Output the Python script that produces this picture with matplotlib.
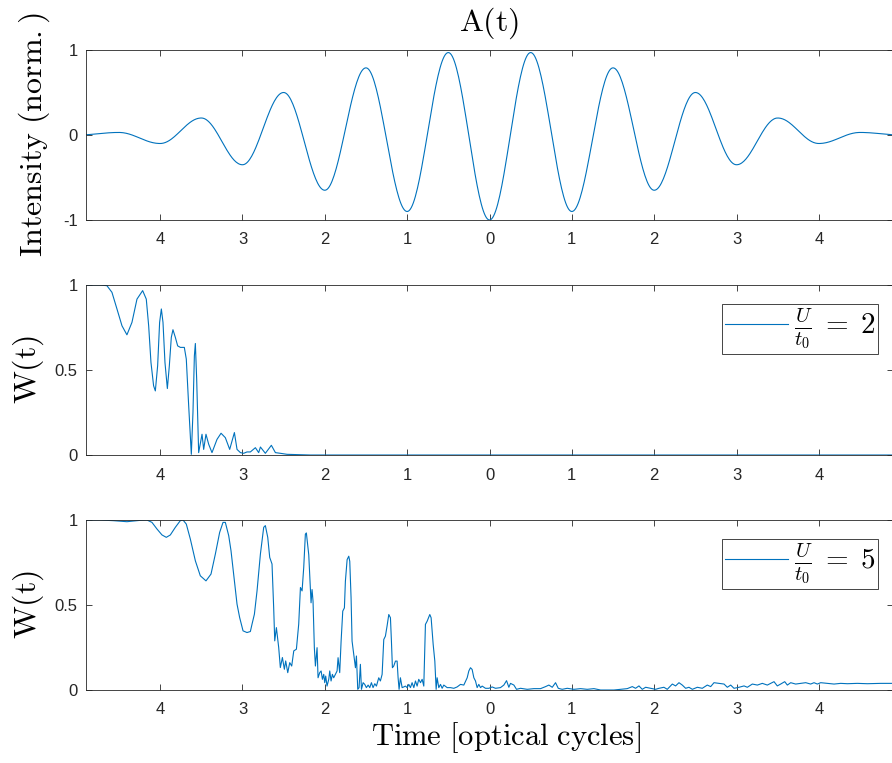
import numpy as np
import matplotlib.pyplot as plt

plt.rcParams['mathtext.fontset'] = 'cm'
plt.rcParams['font.family'] = ['Liberation Sans', 'DejaVu Sans']

blue = '#0072BD'
dark = '#262626'

# A(t): extrema of the normalised field, one every half optical cycle
a_t = [-5.0, -4.5, -4.0, -3.5, -3.0, -2.5, -2.0, -1.5, -1.0, -0.5, 0.0,
       0.5, 1.0, 1.5, 2.0, 2.5, 3.0, 3.5, 4.0, 4.5, 5.0]
a_val = [0.0, 0.03, -0.10, 0.20, -0.35, 0.50, -0.65, 0.79, -0.90, 0.97, -1.0,
         0.97, -0.90, 0.79, -0.65, 0.50, -0.35, 0.20, -0.10, 0.03, 0.0]

# W(t) for U/t0 = 2
w2_t = [-4.897, -4.727, -4.646, -4.585, -4.524, -4.463, -4.403, -4.342, -4.281,
        -4.212, -4.168, -4.139, -4.111, -4.079, -4.058, -4.030, -4.006, -3.985,
        -3.965, -3.941, -3.912, -3.888, -3.864, -3.844, -3.815, -3.787, -3.754,
        -3.706, -3.682, -3.653, -3.621, -3.601, -3.584, -3.572, -3.556, -3.532,
        -3.491, -3.471, -3.443, -3.410, -3.370, -3.309, -3.260, -3.208, -3.155,
        -3.098, -3.066, -3.025, -2.985, -2.945, -2.904, -2.843, -2.803, -2.782,
        -2.722, -2.649, -2.600, -2.540, -2.459, -2.175, 4.9]
w2_val = [1.0, 1.0, 0.996, 0.957, 0.859, 0.760, 0.707, 0.780, 0.917,
          0.967, 0.917, 0.760, 0.544, 0.407, 0.377, 0.525, 0.780, 0.859,
          0.780, 0.544, 0.391, 0.525, 0.692, 0.737, 0.692, 0.642, 0.633,
          0.633, 0.564, 0.289, 0.004, 0.250, 0.583, 0.656, 0.446, 0.014,
          0.122, 0.033, 0.122, 0.063, 0.014, 0.092, 0.128, 0.102, 0.033,
          0.132, 0.033, 0.014, 0.010, 0.018, 0.018, 0.043, 0.014, 0.047,
          0.010, 0.057, 0.014, 0.010, 0.004, 0.0, 0.0]

# W(t) for U/t0 = 5
w5_t = [-4.897, -4.727, -4.565, -4.403, -4.241, -4.160, -4.099, -4.038, -3.977,
        -3.925, -3.876, -3.815, -3.755, -3.722, -3.682, -3.633, -3.572, -3.512,
        -3.443, -3.382, -3.329, -3.277, -3.236, -3.208, -3.167, -3.139, -3.098,
        -3.066, -3.034, -2.993, -2.945, -2.904, -2.884, -2.855, -2.823, -2.782,
        -2.742, -2.722, -2.693, -2.669, -2.641, -2.621, -2.608, -2.588, -2.560,
        -2.540, -2.515, -2.491, -2.475, -2.450, -2.426, -2.402, -2.377, -2.345,
        -2.317, -2.296, -2.276, -2.256, -2.236, -2.224, -2.195, -2.175, -2.167,
        -2.155, -2.143, -2.127, -2.114, -2.094, -2.082, -2.062, -2.045, -2.029,
        -2.013, -2.001, -1.989, -1.973, -1.952, -1.940, -1.924, -1.908, -1.892,
        -1.871, -1.851, -1.839, -1.819, -1.802, -1.782, -1.762, -1.750, -1.729,
        -1.709, -1.697, -1.681, -1.669, -1.648, -1.628, -1.616, -1.600, -1.584,
        -1.568, -1.555, -1.535, -1.515, -1.495, -1.474, -1.454, -1.434, -1.414,
        -1.393, -1.373, -1.345, -1.325, -1.304, -1.284, -1.264, -1.244, -1.223,
        -1.203, -1.191, -1.179, -1.163, -1.142, -1.122, -1.110, -1.098, -1.082,
        -1.061, -1.041, -1.021, -1.000, -0.980, -0.960, -0.940, -0.919, -0.899,
        -0.879, -0.859, -0.838, -0.818, -0.798, -0.778, -0.757, -0.725, -0.709,
        -0.684, -0.664, -0.648, -0.636, -0.616, -0.595, -0.575, -0.555, -0.514,
        -0.474, -0.433, -0.393, -0.352, -0.312, -0.271, -0.251, -0.231, -0.211,
        -0.190, -0.170, -0.150, -0.130, -0.109, -0.089, -0.049, -0.008, 0.032,
        0.073, 0.133, 0.174, 0.207, 0.235, 0.255, 0.296, 0.328, 0.377, 0.458,
        0.539, 0.620, 0.681, 0.721, 0.762, 0.802, 0.835, 0.883, 0.944, 1.025,
        1.106, 1.187, 1.268, 1.349, 1.430, 1.511, 1.592, 1.673, 1.734, 1.774,
        1.815, 1.855, 1.896, 1.957, 2.017, 2.058, 2.118, 2.159, 2.220, 2.260,
        2.301, 2.341, 2.382, 2.422, 2.463, 2.524, 2.584, 2.645, 2.686, 2.726,
        2.787, 2.848, 2.888, 2.929, 2.969, 3.030, 3.091, 3.131, 3.192, 3.253,
        3.313, 3.374, 3.414, 3.455, 3.495, 3.536, 3.585, 3.617, 3.658, 3.718,
        3.779, 3.840, 3.900, 3.941, 3.981, 4.022, 4.103, 4.184, 4.265, 4.346,
        4.467, 4.589, 4.751, 4.896]
w5_val = [1.0, 1.0, 0.996, 0.990, 0.998, 1.0, 0.986, 0.947, 0.912,
          0.898, 0.912, 0.957, 0.996, 1.0, 0.976, 0.888, 0.760, 0.672,
          0.642, 0.682, 0.800, 0.927, 0.986, 0.986, 0.908, 0.819, 0.642,
          0.505, 0.426, 0.348, 0.338, 0.344, 0.387, 0.446, 0.583, 0.800,
          0.957, 0.967, 0.898, 0.780, 0.741, 0.485, 0.289, 0.367, 0.250,
          0.132, 0.191, 0.122, 0.171, 0.102, 0.161, 0.141, 0.230, 0.240,
          0.387, 0.603, 0.583, 0.721, 0.917, 0.924, 0.796, 0.601, 0.513,
          0.591, 0.523, 0.249, 0.141, 0.249, 0.072, 0.102, 0.112, 0.063,
          0.092, 0.043, 0.082, 0.023, 0.063, 0.112, 0.053, 0.092, 0.072,
          0.092, 0.112, 0.190, 0.102, 0.288, 0.464, 0.483, 0.640, 0.767,
          0.787, 0.757, 0.542, 0.288, 0.209, 0.131, 0.200, 0.004, 0.014,
          0.151, 0.004, 0.043, 0.033, 0.014, 0.029, 0.014, 0.043, 0.014,
          0.037, 0.023, 0.072, 0.053, 0.092, 0.297, 0.317, 0.376, 0.444,
          0.425, 0.288, 0.131, 0.141, 0.170, 0.170, 0.072, 0.004, 0.072,
          0.014, 0.018, 0.023, 0.014, 0.033, 0.014, 0.043, 0.014, 0.053,
          0.023, 0.063, 0.043, 0.063, 0.023, 0.386, 0.405, 0.444, 0.425,
          0.268, 0.170, 0.004, 0.072, 0.014, 0.033, 0.010, 0.029, 0.014,
          0.014, 0.010, 0.018, 0.033, 0.029, 0.072, 0.112, 0.131, 0.121,
          0.072, 0.053, 0.014, 0.033, 0.014, 0.023, 0.010, 0.010, 0.018,
          0.010, 0.014, 0.029, 0.055, 0.016, 0.039, 0.029, 0.004, 0.010, 0.004,
          0.008, 0.008, 0.020, 0.029, 0.016, 0.043, 0.010, 0.004, 0.010, 0.004,
          0.008, 0.004, 0.008, 0.0, 0.0, 0.0, 0.004, 0.008, 0.020, 0.010,
          0.024, 0.004, 0.016, 0.010, 0.004, 0.010, 0.016, 0.004, 0.035, 0.024,
          0.043, 0.029, 0.010, 0.016, 0.004, 0.016, 0.010, 0.029, 0.020, 0.043,
          0.039, 0.035, 0.016, 0.029, 0.010, 0.016, 0.024, 0.016, 0.035, 0.029,
          0.039, 0.029, 0.039, 0.049, 0.024, 0.035, 0.049, 0.029, 0.043, 0.035,
          0.039, 0.043, 0.035, 0.043, 0.035, 0.043, 0.039, 0.035, 0.039, 0.037,
          0.039, 0.037, 0.039, 0.039]

x_ticks = [-4, -3, -2, -1, 0, 1, 2, 3, 4]
x_ticklabels = ['4', '3', '2', '1', '0', '1', '2', '3', '4']


def carrier(ts, vals, n=40):
    # half-cosine segments joining consecutive extrema
    xs, ys = [], []
    for i in range(len(ts) - 1):
        s = np.linspace(0, 1, n, endpoint=False)
        a, b = vals[i], vals[i + 1]
        xs.append(ts[i] + s * (ts[i + 1] - ts[i]))
        ys.append((a + b) / 2 + (a - b) / 2 * np.cos(np.pi * s))
    xs.append([ts[-1]])
    ys.append([vals[-1]])
    return np.concatenate(xs), np.concatenate(ys)


def style(ax):
    ax.set_xlim(-4.9, 4.9)
    ax.set_xticks(x_ticks)
    ax.set_xticklabels(x_ticklabels)
    ax.tick_params(direction='in', top=True, right=True, length=4.5,
                   width=0.6, color=dark, labelcolor=dark, labelsize=12)
    ax.tick_params(axis='x', pad=9)
    ax.tick_params(axis='y', pad=6)
    for sp in ax.spines.values():
        sp.set_color(dark)
        sp.set_linewidth(0.6)


fig = plt.figure(figsize=(8.92, 7.63), dpi=100)
W = 892
H = 763
left = 86 / W
width = (893 - 86) / W
ax1 = fig.add_axes([left, 1 - 220 / H, width, 170 / H])
ax2 = fig.add_axes([left, 1 - 455 / H, width, 170 / H])
ax3 = fig.add_axes([left, 1 - 690 / H, width, 170 / H])

tx, ty = carrier(a_t, a_val)
ax1.plot(tx, ty, color=blue, lw=0.8)
ax1.set_ylim(-1, 1)
ax1.set_yticks([-1, 0, 1])
ax1.set_yticklabels(['-1', '0', '1'])
ax1.set_title(r'$\mathrm{A(t)}$', fontsize=23, pad=14)
ax1.set_ylabel(r'$\mathrm{Intensity\ (norm.)}$', fontsize=23)
ax1.yaxis.set_label_coords(-0.042, 0.5)
style(ax1)

for ax, t, w, u in [(ax2, w2_t, w2_val, 2), (ax3, w5_t, w5_val, 5)]:
    ax.plot(t, w, color=blue, lw=0.8, label=r'$\frac{U}{t_0}\;=\;%d$' % u)
    ax.set_ylim(0, 1)
    ax.set_yticks([0, 0.5, 1])
    ax.set_yticklabels(['0', '0.5', '1'])
    ax.set_ylabel(r'$\mathrm{W(t)}$', fontsize=23)
    ax.yaxis.set_label_coords(-0.05, 0.5)
    style(ax)
    leg = ax.legend(loc='upper right', bbox_to_anchor=(0.982, 0.888),
                    borderaxespad=0, fontsize=21, fancybox=False,
                    handlelength=2.15, handletextpad=0.2, borderpad=0.1,
                    framealpha=1)
    leg.get_frame().set_edgecolor(dark)
    leg.get_frame().set_linewidth(0.6)

ax3.set_xlabel(r'$\mathrm{Time\ [optical\ cycles]}$', fontsize=22)
ax3.xaxis.set_label_coords(0.52, -0.18)
ax3.xaxis.label.set_va('top')

fig.savefig('out.png', dpi=100)
